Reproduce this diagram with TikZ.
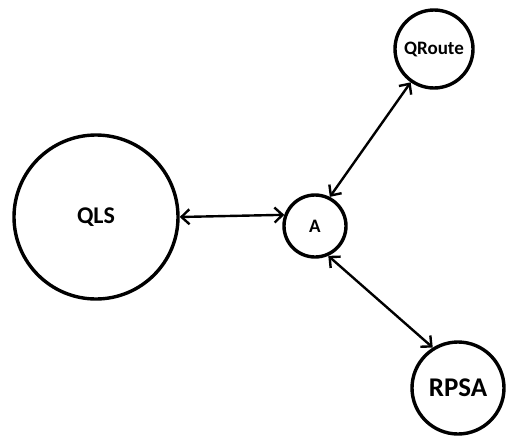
\documentclass[tikz,border=0pt]{standalone}
\usepackage{fontspec}
\setmainfont{Carlito}
\usetikzlibrary{arrows.meta}
\tikzset{
  ent/.style={circle,draw=black,line width=3.4pt,inner sep=0pt,font=\bfseries},
  link/.style={line width=2.4pt,{Straight Barb[length=8pt,width=15pt]}-{Straight Barb[length=8pt,width=15pt]}}
}
\begin{document}
\begin{tikzpicture}[x=1pt,y=-1pt]
\useasboundingbox (0,0) rectangle (508,447);
\node[ent,minimum size=164pt,font=\bfseries\fontsize{24}{24}\selectfont] (QLS) at (96,217) {QLS};
\node[ent,minimum size=62pt,font=\bfseries\fontsize{19}{19}\selectfont] (A) at (315,226) {A};
\node[ent,minimum size=78pt,font=\bfseries\fontsize{19}{19}\selectfont] (QR) at (434,49) {QRoute};
\node[ent,minimum size=92pt,font=\bfseries\fontsize{27}{27}\selectfont] (RP) at (458,388) {RPSA};
\draw[link] (QLS.east) -- (A.160);
\draw[link] (QR.235) -- (A.63);
\draw[link] (A.294) -- (RP.122);
\end{tikzpicture}
\end{document}
